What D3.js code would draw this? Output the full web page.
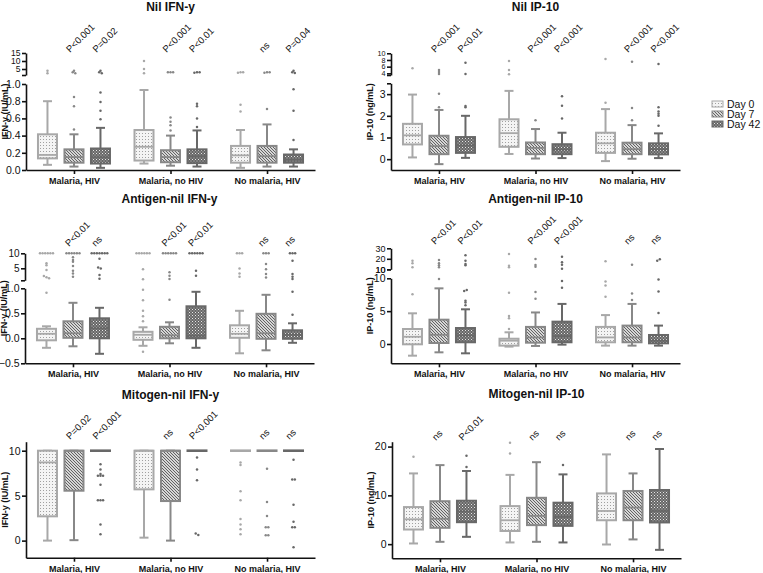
<!DOCTYPE html>
<html><head><meta charset="utf-8">
<script src="https://cdn.jsdelivr.net/npm/d3@7"></script>
<style>
body{margin:0;background:#fff}
text{font-family:"Liberation Sans",Arial,sans-serif;fill:#111}
</style>
</head><body>
<svg id="c" width="763" height="573"></svg>
<script>
// ---------------- DATA ----------------
const groups = ["Malaria, HIV", "Malaria, no HIV", "No malaria, HIV"];
const days = ["Day 0", "Day 7", "Day 42"];

// box stats per box: [whisker low, Q1, median, Q3, whisker high]; order: group 1 (Day0, Day7, Day42), group 2, group 3
const nilIfnStats = [
  [0.06,0.135,0.175,0.415,0.80],[0.04,0.085,0.15,0.24,0.415],[0.025,0.075,0.15,0.25,0.49],
  [0.075,0.11,0.27,0.465,0.93],[0.05,0.09,0.15,0.23,0.40],[0.04,0.08,0.16,0.24,0.46],
  [0.025,0.085,0.17,0.28,0.465],[0.04,0.085,0.16,0.28,0.53],[0.04,0.085,0.12,0.18,0.24]
];
const nilIfnOut = [
  [3.9,2.3],[0.47,0.74,0.85,3.9,3.0,2.3],[0.59,0.69,0.79,0.90,3.9,3.0,2.3],
  [10,5,2.3],[0.46,0.52,0.56,0.61,2.9,2.9,2.9],[0.50,0.60,0.74,0.77,2.6,2.9,2.9],
  [0.68,0.76,2.6,2.9,2.9],[0.71,2.6,2.9,2.9],[0.35,0.69,0.94,3.9,3.0,2.5]
];
const nilIfnP = ["P<0.001","P=0.02","P<0.001","P<0.01","ns","P=0.04"];
const nilIfnLoTicks = [0,0.2,0.4,0.6,0.8,1.0];
const nilIfnUpTicks = [5,10,15];

const nilIpStats = [
  [0.08,0.68,1.1,1.63,2.98],[-0.23,0.23,0.6,1.08,2.27],[0.06,0.29,0.63,1.02,2.0],
  [0.24,0.57,1.2,1.84,3.15],[0.03,0.23,0.52,0.77,1.39],[0.05,0.23,0.45,0.69,1.22],
  [-0.09,0.29,0.73,1.22,2.31],[0.02,0.23,0.46,0.76,1.57],[0.05,0.22,0.46,0.73,1.19]
];
const nilIpOut = [
  [5.5],[2.4,3.02,5.0,4.4,3.8],[2.39,2.45,7.2,3.8],
  [7.7,5.0,3.7],[1.8],[1.88,2.47,2.9],
  [2.6,8.3],[1.8,2.36,7.5],[1.54,2.0,2.1,2.2,2.4,6.8]
];
const nilIpP = ["P<0.001","P<0.01","P<0.001","P<0.001","P<0.001","P<0.001"];
const nilIpLoTicks = [0,1,2,3];
const nilIpUpTicks = [4,6,8,10];

const antIfnStats = [
  [-0.19,-0.04,0.09,0.19,0.24],[-0.16,0.01,0.1,0.34,0.71],[-0.31,0.0,0.2,0.4,0.61],
  [-0.15,-0.03,0.07,0.13,0.22],[-0.1,0.0,0.06,0.23,0.32],[-0.19,0.0,0.05,0.64,0.93],
  [-0.3,0.01,0.09,0.26,0.55],[-0.24,-0.01,0.1,0.49,0.87],[-0.09,-0.01,0.07,0.16,0.3]
];
const antIfnOut = [
  [0.91,10,10,10,10,10,10,6.7,6.0,4.4,2.4,2.0,1.7],
  [10,10,10,10,10,10,8.7,7.8,7.2,5.8,4.2,3.3,2.2],
  [10,10,10,10,10,10,10,8.2,5.3,4.9,2.8,1.5],
  [-0.27,0.34,0.44,0.55,0.76,0.97,1.33,4.67,10,10,10,10,10,10],
  [0.77,1.4,2.5,3.7,10,10,10,10,10,10],
  [2.5,4.2,10,10,10,10,10,10],
  [2.2,3.3,4.9,10,10,10],
  [1.9,3.1,4.7,6.4,10,10,10],
  [0.47,0.93,1.4,2.2,3.1,7.5,10,10,10]
];
const antIfnP = ["P<0.01","ns","P<0.01","P<0.01","ns","ns"];
const antIfnLoTicks = [-0.5,0,0.5,1.0];
const antIfnUpTicks = [5,10];

const antIpStats = [
  [-1.78,-0.05,1.1,2.28,4.67],[-1.27,0.15,1.4,3.7,8.47],[-1.42,0.26,1.3,2.43,5.28],
  [-0.4,-0.25,0.5,0.8,1.78],[-0.3,0.2,1.0,2.6,4.8],[-0.1,0.26,1.2,3.4,6.1],
  [-0.25,0.26,1.0,2.6,4.4],[-0.25,0.26,1.0,2.8,6.1],[-0.25,0.1,0.5,1.37,2.8]
];
const antIpOut = [
  [7.56,11.9,15.7,18.2],[9.9,11.9,13.8,15.7,18.9],[5.9,6.3,6.6,8.07,8.2,13.8,15.0,18.2,23.3],
  [2.3,3.9,4.26,7.8,11.9,13.4,24.6],[6.9,7.9,12.5,14.1,19.8],[8.57,9.6,10.5,14.4,16.7,22.0],
  [7.2,8.9,9.5,17.6],[6.7,7.7,14.4],[4.7,8.0,9.8,18.2,19.5]
];
const antIpP = ["P<0.01","P<0.01","P<0.001","P<0.001","ns","ns"];
const antIpLoTicks = [0,5,10];
const antIpUpTicks = [10,20,30];

const mitIfnStats = [
  [0,2.7,8.7,10,10],[0.05,5.55,10,10,10],[10,10,10,10,10],
  [0.33,5.7,10,10,10],[0,4.4,10,10,10],[10,10,10,10,10],
  [10,10,10,10,10],[10,10,10,10,10],[10,10,10,10,10]
];
const mitIfnOut = [
  [],[],[8.5,7.9,7.4,7.2,7.2,7.2,6.2,4.5,4.5,4.5,1.8,0.7],
  [],[],[9.25,7.9,6.7,0.78,0.63],
  [8.7,8.4,5.5,4.5,2.4,1.8,1.27,0.7],[8.0,4.3,2.75,1.5,1.5,0.6,0.6],[9.0,6.8,6.8,4.0,2.1,1.5,1.5,-0.75]
];
const mitIfnP = ["P=0.02","P<0.001","ns","P<0.001","ns","ns"];
const mitIfnTicks = [0,5,10];

const mitIpStats = [
  [0.14,3.0,5.1,7.6,14.5],[0.48,3.35,5.2,8.8,16.2],[1.5,4.5,6.7,8.9,15.0],
  [0.35,2.7,4.9,7.8,14.2],[0.48,3.9,5.8,9.5,16.8],[0.35,3.75,5.6,8.5,14.3],
  [-0.07,4.9,6.8,10.4,18.4],[0.97,4.9,7.5,10.9,14.5],[-1.17,4.45,6.8,11.1,19.5]
];
const mitIpOut = [
  [17.9],[],[15.8,18.1],
  [18.6,20.8],[],[16.2],
  [],[],[]
];
const mitIpP = ["ns","P<0.01","ns","ns","ns","ns"];
const mitIpTicks = [0,10,20];

// ---------------- DRAWING ----------------
const svg = d3.select("#c");
const defs = svg.append("defs");
const dayStroke = ["#a8a8a8","#888888","#686868"];
const dayFill = ["url(#pat0)","url(#pat7)","url(#pat42)"];

const p0 = defs.append("pattern").attr("id","pat0").attr("patternUnits","userSpaceOnUse").attr("width",3).attr("height",3);
p0.append("rect").attr("width",3).attr("height",3).attr("fill","#f4f4f4");
p0.append("rect").attr("x",1).attr("y",1).attr("width",1).attr("height",1).attr("fill","#a0a0a0");
const p7 = defs.append("pattern").attr("id","pat7").attr("patternUnits","userSpaceOnUse").attr("width",3).attr("height",3);
p7.append("rect").attr("width",3).attr("height",3).attr("fill","#d6d6d6");
p7.append("path").attr("d","M0,0L3,3M-1,2L1,4M2,-1L4,1").attr("stroke","#555").attr("stroke-width",0.9);
const p42 = defs.append("pattern").attr("id","pat42").attr("patternUnits","userSpaceOnUse").attr("width",3).attr("height",3);
p42.append("rect").attr("width",3).attr("height",3).attr("fill","#666");
p42.append("rect").attr("x",0).attr("y",0).attr("width",1).attr("height",1).attr("fill","#e6e6e6");
p42.append("rect").attr("x",1.5).attr("y",1.5).attr("width",1).attr("height",1).attr("fill","#c8c8c8");

function fmtFn(ticks, f){ const F = d3.format(f); return d => ticks.includes(d) ? F(d) : ""; }

function styleAxis(fs){
  return sel => {
    sel.selectAll("path,line").attr("stroke","#111").attr("stroke-width",1.6);
    sel.selectAll("text").style("font-size", fs + "px").attr("fill","#111");
  };
}

function drawPanel(c){
  const g = svg.append("g");
  const xg = d3.scalePoint().domain(groups).range([c.x0, c.x1]).padding(0.497);
  const xd = d3.scalePoint().domain(days).range([-26.5, 26.5]);
  const yl = d3.scaleLinear().domain(c.lo.domain).range(c.lo.range);
  const yu = c.up ? d3.scaleLinear().domain(c.up.domain).range(c.up.range) : null;
  const yv = v => (yu && v > c.lo.domain[1]) ? yu(v) : yl(v);
  const top = yu ? c.up.range[1] : c.lo.range[1];
  const base = c.lo.range[0];

  // y axes
  const loVals = c.lo.endTick ? c.lo.ticks.concat([c.lo.domain[1]]) : c.lo.ticks;
  g.append("g").attr("transform",`translate(${c.x0},0)`)
    .call(d3.axisLeft(yl).tickValues(loVals).tickFormat(fmtFn(c.lo.ticks, c.lo.fmt)).tickSizeInner(4).tickSizeOuter(0).tickPadding(1.5))
    .call(styleAxis(10.5));
  if (yu){
    const upVals = c.up.ticks.concat([c.up.domain[0]]);
    g.append("g").attr("transform",`translate(${c.x0},0)`)
      .call(d3.axisLeft(yu).tickValues(upVals).tickFormat(fmtFn(c.up.ticks, "d")).tickSizeInner(4).tickSizeOuter(0).tickPadding(1.5))
      .call(styleAxis(c.up.fs));
  }
  // x axis
  g.append("g").attr("transform",`translate(0,${base})`)
    .call(d3.axisBottom(xg).tickSizeInner(4).tickSizeOuter(0).tickPadding(3.5))
    .call(styleAxis(9))
    .call(s => s.selectAll("text").style("font-weight","bold"));

  // title
  g.append("text").attr("x",(c.x0+c.x1)/2).attr("y",c.titleY).attr("text-anchor","middle")
    .style("font-size","12px").style("font-weight","bold").text(c.title);
  // y label
  g.append("text").attr("transform",`translate(${c.x0-18.5},${(top+base)/2}) rotate(-90)`)
    .attr("text-anchor","middle").style("font-size","9px").style("font-weight","bold").text(c.ylab);

  const bw = 19, cw = 9;
  c.stats.forEach((s, idx) => {
    const gi = Math.floor(idx/3), di = idx % 3;
    const cx = xg(groups[gi]) + xd(days[di]);
    const col = dayStroke[di];
    const bg = g.append("g");
    if (s[1] === s[3]) {
      bg.append("line").attr("x1",cx-bw/2-1).attr("x2",cx+bw/2+1).attr("y1",yv(s[2])).attr("y2",yv(s[2]))
        .attr("stroke",col).attr("stroke-width",2.6);
    } else {
      bg.append("line").attr("x1",cx).attr("x2",cx).attr("y1",yv(s[0])).attr("y2",yv(s[1])).attr("stroke",col).attr("stroke-width",2);
      bg.append("line").attr("x1",cx).attr("x2",cx).attr("y1",yv(s[3])).attr("y2",yv(s[4])).attr("stroke",col).attr("stroke-width",2);
      [s[0], s[4]].forEach(v => bg.append("line").attr("x1",cx-cw/2).attr("x2",cx+cw/2).attr("y1",yv(v)).attr("y2",yv(v)).attr("stroke",col).attr("stroke-width",2));
      bg.append("rect").attr("x",cx-bw/2).attr("y",yv(s[3])).attr("width",bw).attr("height",yv(s[1])-yv(s[3]))
        .attr("fill",dayFill[di]).attr("stroke",col).attr("stroke-width",2);
      bg.append("line").attr("x1",cx-bw/2).attr("x2",cx+bw/2).attr("y1",yv(s[2])).attr("y2",yv(s[2])).attr("stroke",col).attr("stroke-width",1.8);
    }
    // outliers, spread horizontally when overlapping
    const pts = c.out[idx].map(v => ({v, y: yv(v)}));
    const buckets = d3.group(pts, p => Math.round(p.y / 2.2));
    buckets.forEach(arr => {
      arr.forEach((p, k) => {
        const dx = (k - (arr.length - 1) / 2) * 2.6;
        bg.append("circle").attr("cx",cx+dx).attr("cy",p.y).attr("r",1.25).attr("fill",col);
      });
    });
  });

  // p-value annotations for Day 7 and Day 42
  c.p.forEach((t, k) => {
    const gi = Math.floor(k/2), di = 1 + (k % 2);
    const x = xg(groups[gi]) + xd(days[di]) - 4;
    g.append("text").attr("transform",`translate(${x},${c.pY}) rotate(-45)`)
      .style("font-size","9.5px").text(t);
  });
}

const panels = [
  {title:"Nil IFN-y", titleY:10.5, ylab:"IFN-y (IU/mL)", x0:26, x1:315, pY:53,
   lo:{domain:[0,1], range:[170,84], ticks:nilIfnLoTicks, fmt:".1f"},
   up:{domain:[1.25,15], range:[75,53], ticks:nilIfnUpTicks, fs:8.5},
   stats:nilIfnStats, out:nilIfnOut, p:nilIfnP},
  {title:"Nil IP-10", titleY:10.5, ylab:"IP-10 (ng/mL)", x0:391, x1:680, pY:53,
   lo:{domain:[-0.5,3.5], range:[170,83.3], ticks:nilIpLoTicks, fmt:"d", endTick:true},
   up:{domain:[3.5,10], range:[75,53.3], ticks:nilIpUpTicks, fs:7.2},
   stats:nilIpStats, out:nilIpOut, p:nilIpP},
  {title:"Antigen-nil IFN-y", titleY:203, ylab:"IFN-y (IU/mL)", x0:25, x1:314, pY:247,
   lo:{domain:[-0.5,1], range:[363.3,288.3], ticks:antIfnLoTicks, fmt:".1f"},
   up:{domain:[1,10], range:[280.3,253.3], ticks:antIfnUpTicks, fs:10},
   stats:antIfnStats, out:antIfnOut, p:antIfnP},
  {title:"Antigen-nil IP-10", titleY:203, ylab:"IP-10 (ng/mL)", x0:391, x1:680, pY:245,
   lo:{domain:[-2.94,10], range:[363.3,278.3], ticks:antIpLoTicks, fmt:"d"},
   up:{domain:[10,30], range:[269.3,248.3], ticks:antIpUpTicks, fs:9},
   stats:antIpStats, out:antIpOut, p:antIpP},
  {title:"Mitogen-nil IFN-y", titleY:398.5, ylab:"IFN-y (IU/mL)", x0:26, x1:315, pY:440,
   lo:{domain:[-1.9,11], range:[557.7,441.7], ticks:mitIfnTicks, fmt:"d"},
   stats:mitIfnStats, out:mitIfnOut, p:mitIfnP},
  {title:"Mitogen-nil IP-10", titleY:398, ylab:"IP-10 (ng/mL)", x0:392, x1:681, pY:441,
   lo:{domain:[-2.9,21], range:[558.3,441.7], ticks:mitIpTicks, fmt:"d"},
   stats:mitIpStats, out:mitIpOut, p:mitIpP}
];
panels.forEach(drawPanel);

// legend
const lg = svg.append("g");
days.forEach((d, i) => {
  const y = 104 + i * 10;
  lg.append("rect").attr("x",712).attr("y",y-3).attr("width",11).attr("height",6)
    .attr("fill",dayFill[i]).attr("stroke",dayStroke[i]).attr("stroke-width",1);
  lg.append("text").attr("x",727).attr("y",y+3.8).style("font-size","10.5px").text(d);
});
</script>
</body></html>
